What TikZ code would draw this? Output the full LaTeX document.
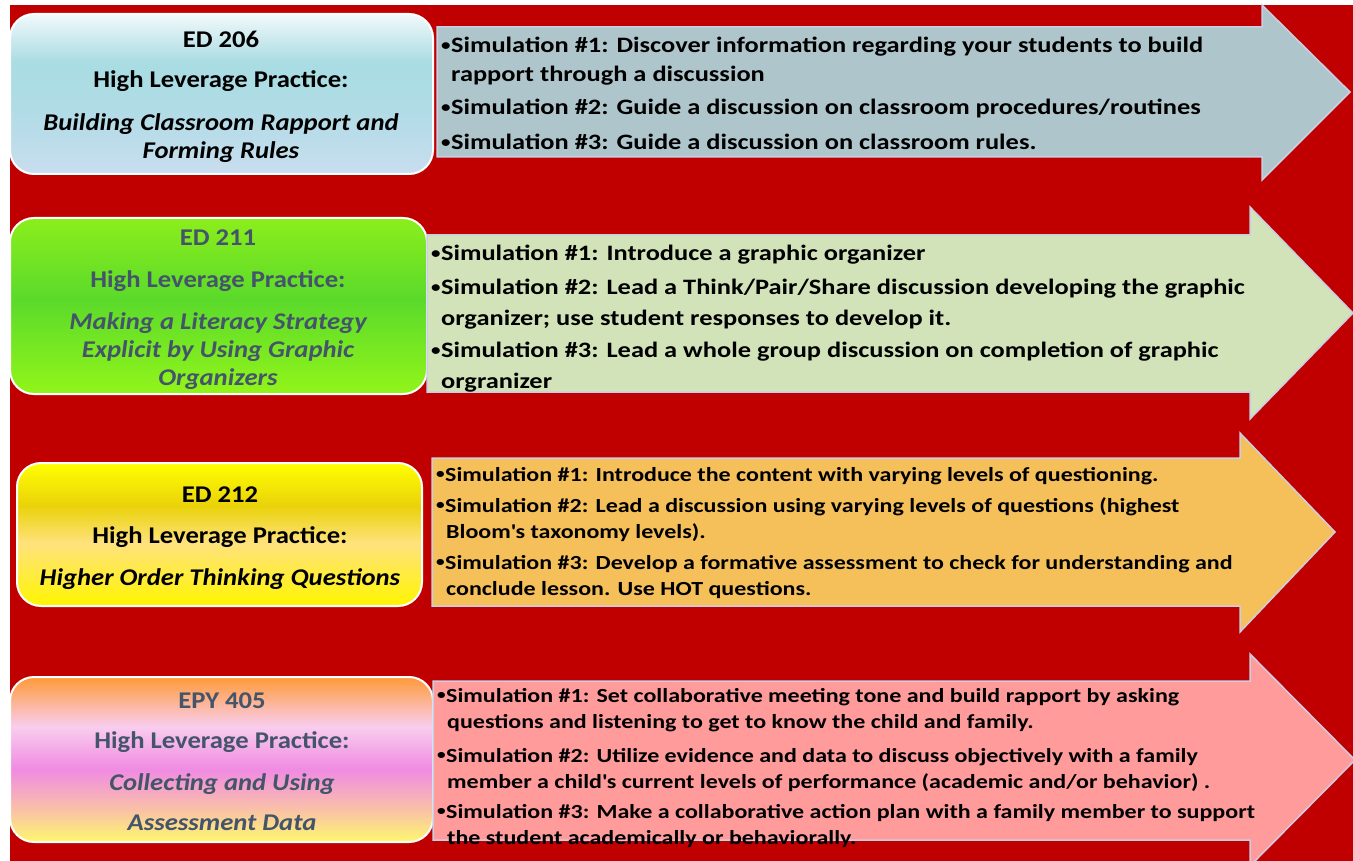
\documentclass[tikz,border=0pt]{standalone}
\usepackage{fontspec}
\setmainfont{Carlito}
\newfontfamily\simfont[FakeStretch=1.2]{Carlito}
\newfontfamily\hlpfont[FakeStretch=1.11]{Carlito}
\definecolor{bgred}{HTML}{C00000}
\definecolor{slate}{HTML}{44546A}
\definecolor{arrline}{HTML}{C9CFE3}
\definecolor{fillA}{HTML}{AFC5CC}
\definecolor{fillB}{HTML}{D2E2B9}
\definecolor{fillC}{HTML}{F5C059}
\definecolor{fillD}{HTML}{FF9B9B}
\definecolor{aT}{HTML}{F2F9FB}\definecolor{aM}{HTML}{A9DCE3}\definecolor{aL}{HTML}{B0DCE6}\definecolor{aB}{HTML}{C9DDEF}
\definecolor{bT}{HTML}{8BEE1B}\definecolor{bM}{HTML}{5BDA2B}\definecolor{bB}{HTML}{92F51A}
\definecolor{cT}{HTML}{FFFF00}\definecolor{cM}{HTML}{EAD20A}\definecolor{cL}{HTML}{FFE27D}\definecolor{cB}{HTML}{FFF500}
\definecolor{dT}{HTML}{FF9A38}\definecolor{dP}{HTML}{F9CDEE}\definecolor{dM}{HTML}{F08BE2}\definecolor{dS}{HTML}{F9C0A8}\definecolor{dB}{HTML}{FFF86E}
\pgfdeclareverticalshading{shA}{100bp}{color(0bp)=(aB); color(25bp)=(aB); color(45bp)=(aL); color(60bp)=(aM); color(75bp)=(aT); color(100bp)=(aT)}
\pgfdeclareverticalshading{shB}{100bp}{color(0bp)=(bB); color(25bp)=(bB); color(52bp)=(bM); color(75bp)=(bT); color(100bp)=(bT)}
\pgfdeclareverticalshading{shC}{100bp}{color(0bp)=(cB); color(25bp)=(cB); color(47bp)=(cL); color(60bp)=(cM); color(75bp)=(cT); color(100bp)=(cT)}
\pgfdeclareverticalshading{shD}{100bp}{color(0bp)=(dB); color(25bp)=(dB); color(35bp)=(dS); color(47bp)=(dM); color(60bp)=(dP); color(75bp)=(dT); color(100bp)=(dT)}
\newcommand{\ind}{\hspace*{10pt}}
\newcommand{\bul}{\makebox[0.45em][l]{\raisebox{0.12em}{\scalebox{0.72}{•}}}}
\tikzset{
  lbox/.style={draw=white, line width=2pt, rounded corners=24pt, inner sep=0pt},
  arr/.style={draw=arrline, line width=1.5pt},
  simtext/.style={anchor=north west, align=left, inner sep=0pt, text=black},
  hlptext/.style={anchor=north, align=center, inner sep=0pt, font=\hlpfont\bfseries\fontsize{24}{28}\selectfont},
}
\begin{document}
\begin{tikzpicture}[x=1pt,y=-1pt]
\useasboundingbox (0,0) rectangle (1353,861);
\fill[white] (0,0) rectangle (1353,861);
\fill[bgred] (10,5) rectangle (1353,861);

% Row 1
\node[lbox, shading=shA, minimum width=423pt, minimum height=160pt] (b1) at (221.5,94) {};
\filldraw[arr, fill=fillA] (437,27) -- (1262,27) -- (1262,5) -- (1350,92) -- (1262,180) -- (1262,157) -- (437,157) -- cycle;
\node[hlptext] (t1) at (221,31) {ED 206\\[12pt]High Leverage Practice:\\[15pt]\itshape Building Classroom Rapport and\\\itshape Forming Rules};
\node[simtext, font=\simfont\bfseries\fontsize{22}{29}\selectfont] (s1) at (441,37) {%
\bul Simulation \#1: Discover information regarding your students to build\\
\ind rapport through a discussion\\[4pt]
\bul Simulation \#2: Guide a discussion on classroom procedures/routines\\[6pt]
\bul Simulation \#3: Guide a discussion on classroom rules.};

% Row 2
\node[lbox, shading=shB, minimum width=417pt, minimum height=176pt] (b2) at (218.5,306) {};
\filldraw[arr, fill=fillB] (427,235) -- (1250,235) -- (1250,207) -- (1353,313) -- (1250,419) -- (1250,392) -- (427,392) -- cycle;
\node[hlptext, text=slate] (t2) at (218,230) {ED 211\\[14pt]High Leverage Practice:\\[14pt]\itshape Making a Literacy Strategy\\\itshape Explicit by Using Graphic\\\itshape Organizers};
\node[simtext, font=\simfont\bfseries\fontsize{22}{31}\selectfont] (s2) at (431,245) {%
\bul Simulation \#1: Introduce a graphic organizer\\[3pt]
\bul Simulation \#2: Lead a Think/Pair/Share discussion developing the graphic\\
\ind organizer; use student responses to develop it.\\[1pt]
\bul Simulation \#3: Lead a whole group discussion on completion of graphic\\
\ind orgranizer};

% Row 3
\node[lbox, shading=shC, minimum width=405pt, minimum height=143pt] (b3) at (219.5,534.5) {};
\filldraw[arr, fill=fillC] (432,458) -- (1240,458) -- (1240,433) -- (1335,532) -- (1240,632) -- (1240,606) -- (432,606) -- cycle;
\node[hlptext] (t3) at (220,487) {ED 212\\[13pt]High Leverage Practice:\\[14pt]\itshape Higher Order Thinking Questions};
\node[simtext, font=\simfont\bfseries\fontsize{20}{26}\selectfont] (s3) at (436,467) {%
\bul Simulation \#1: Introduce the content with varying levels of questioning.\\[5pt]
\bul Simulation \#2: Lead a discussion using varying levels of questions (highest\\
\ind Bloom\textquotesingle s taxonomy levels).\\[5pt]
\bul Simulation \#3: Develop a formative assessment to check for understanding and\\
\ind conclude lesson. Use HOT questions.};

% Row 4
\node[lbox, shading=shD, minimum width=423pt, minimum height=165pt] (b4) at (221.5,759.5) {};
\filldraw[arr, fill=fillD] (433,681) -- (1250,681) -- (1250,654) -- (1355,760) -- (1250,866) -- (1250,840) -- (433,840) -- cycle;
\node[hlptext, text=slate] (t4) at (222,693) {EPY 405\\[12pt]High Leverage Practice:\\[14pt]\itshape Collecting and Using\\[12pt]\itshape Assessment Data};
\node[simtext, font=\simfont\bfseries\fontsize{20}{26}\selectfont] (s4) at (437,688) {%
\bul Simulation \#1: Set collaborative meeting tone and build rapport by asking\\
\ind questions and listening to get to know the child and family.\\[8pt]
\bul Simulation \#2: Utilize evidence and data to discuss objectively with a family\\
\ind member a child\textquotesingle s current levels of performance (academic and/or behavior) .\\[4pt]
\bul Simulation \#3: Make a collaborative action plan with a family member to support\\
\ind the student academically or behaviorally.};
\end{tikzpicture}
\end{document}
